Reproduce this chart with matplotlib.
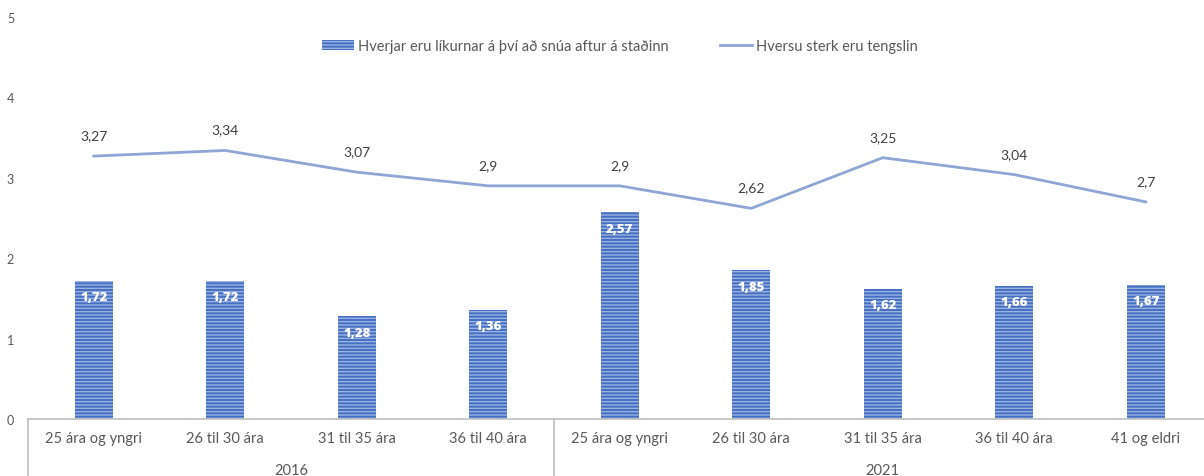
import matplotlib
matplotlib.use("Agg")
import matplotlib.pyplot as plt
from matplotlib.lines import Line2D
from matplotlib.patches import Patch

##### DATA #####

categories = ["25 ára og yngri", "26 til 30 ára", "31 til 35 ára", "36 til 40 ára",
              "25 ára og yngri", "26 til 30 ára", "31 til 35 ára", "36 til 40 ára",
              "41 og eldri"]
years      = ["2016", "2021"]
yearCounts = [4, 5]
barValues  = [1.72, 1.72, 1.28, 1.36, 2.57, 1.85, 1.62, 1.66, 1.67]
lineValues = [3.27, 3.34, 3.07, 2.9, 2.9, 2.62, 3.25, 3.04, 2.7]
barName    = "Hverjar eru líkurnar á því að snúa aftur á staðinn"
lineName   = "Hversu sterk eru tengslin"

##### STYLE #####

plt.rcParams['font.family'] = ['Lato', 'DejaVu Sans']
plt.rcParams['hatch.linewidth'] = 1.0
textColor = "#595959"
barColor  = "#4470C4"
hatchCol  = "#9AB2E2"
lineColor = "#8EA5D6"
sepColor  = "#BFBFBF"

def fmt(v):
    return f"{v:g}".replace(".", ",")

##### FIGURE #####

fig = plt.figure(figsize = (12.04, 4.77), dpi = 100)
ax = fig.add_axes([28/1204, 57/477, 1183.5/1204, 402/477])

x = list(range(len(categories)))

bars = ax.bar(x, barValues, width = 0.29, color = barColor,
              edgecolor = hatchCol, hatch = "-----", linewidth = 0, zorder = 2)
ax.plot(x, lineValues, color = lineColor, lw = 2, zorder = 3)

# Data labels
for xi, v in zip(x, barValues):
    ax.annotate(fmt(v), xy = (xi, v), xytext = (0, -12), textcoords = "offset points",
                ha = "center", va = "center", color = "white", weight = "heavy",
                fontsize = 9.5, zorder = 4, family = ['Open Sans', 'DejaVu Sans'])
for xi, v in zip(x, lineValues):
    ax.annotate(fmt(v), xy = (xi, v), xytext = (0, 15), textcoords = "offset points",
                ha = "center", va = "center", color = "#404040",
                fontsize = 10, zorder = 4)

ax.set_xlim(-0.5, len(categories) - 0.5)
ax.set_ylim(0, 5)
ax.set_yticks(range(6))
ax.tick_params(axis = "y", length = 0, labelsize = 9, labelcolor = textColor, pad = 10)
ax.set_xticks(x)
ax.set_xticklabels(categories)
ax.tick_params(axis = "x", length = 0, labelsize = 10.5, labelcolor = textColor, pad = 9)
for s in ax.spines.values():
    s.set_visible(False)

# Category axis with group separators
trans = ax.get_xaxis_transform()
bottom = -57/402
ax.add_line(Line2D([-0.5, len(categories) - 0.5], [0, 0], transform = trans,
                   color = sepColor, lw = 1.2, clip_on = False))
start = 0
for year, n in zip(years, yearCounts):
    ax.add_line(Line2D([start - 0.5, start - 0.5], [0, bottom], transform = trans,
                       color = sepColor, lw = 1.2, clip_on = False))
    ax.text(start + (n - 1) / 2, -51/402, year, transform = trans, ha = "center",
            va = "center", color = textColor, fontsize = 10.5)
    start += n

# Legend
handles = [Patch(facecolor = barColor, edgecolor = hatchCol, hatch = "-----", linewidth = 0),
           Line2D([], [], color = lineColor, lw = 2)]
fig.legend(handles, [barName, lineName], loc = "center", bbox_to_anchor = (620/1204, 1 - 47/477),
           ncol = 2, frameon = False, fontsize = 10.5, labelcolor = textColor,
           handlelength = 2.2, handletextpad = 0.3, columnspacing = 3.5)

fig.savefig("out.png", dpi = 100)
